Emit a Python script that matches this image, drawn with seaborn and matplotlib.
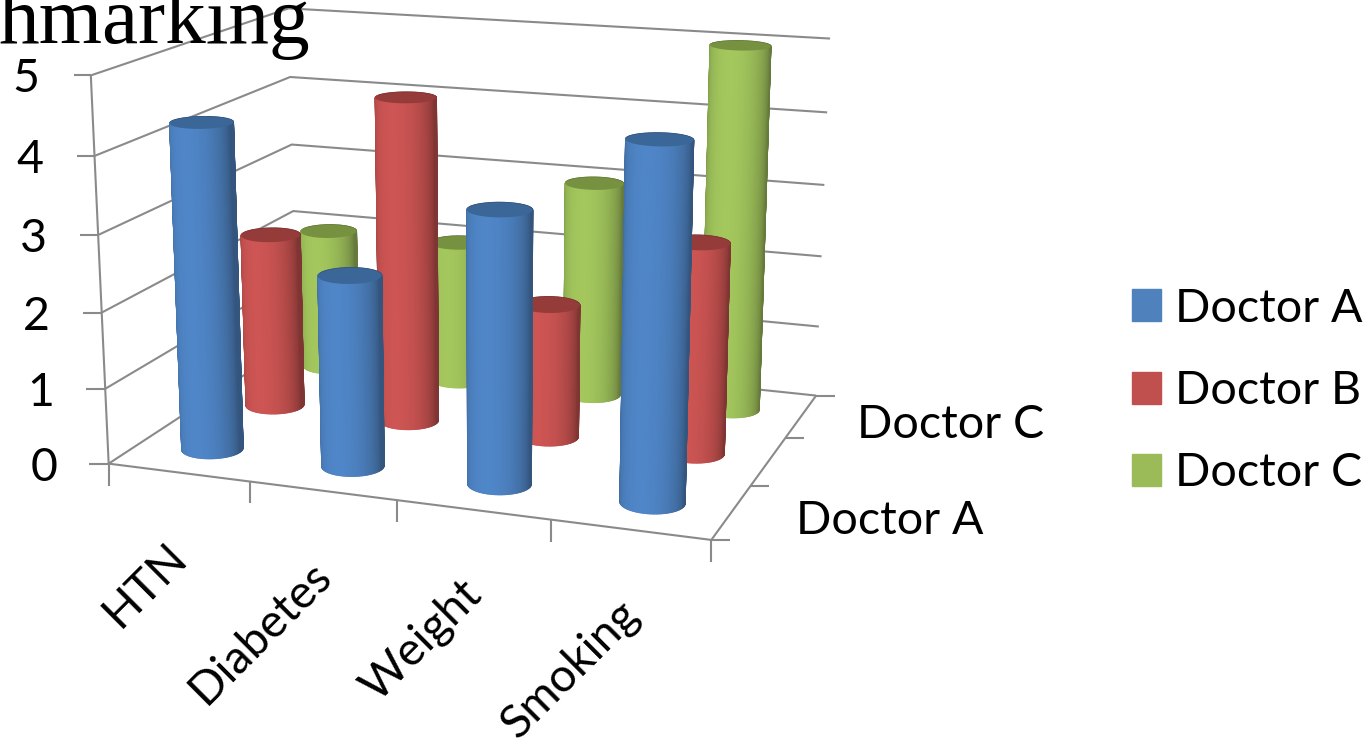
import numpy as np
import pandas as pd
import seaborn as sns
import matplotlib
matplotlib.use("Agg")
import matplotlib.pyplot as plt
from matplotlib.collections import PolyCollection
from matplotlib.colors import to_rgb
from matplotlib.patches import Patch

# Scores per topic and doctor
categories = ["HTN", "Diabetes", "Weight", "Smoking"]
doctors = ["Doctor A", "Doctor B", "Doctor C"]
doctor_a = [4.3, 2.5, 3.5, 4.5]
doctor_b = [2.4, 4.4, 1.8, 2.8]
doctor_c = [2.0, 2.0, 3.0, 5.0]
value_ticks = [0, 1, 2, 3, 4, 5]
depth_labels = {"Doctor A": 0.5, "Doctor C": 2.5}
depth_label_gap = {"Doctor A": 64, "Doctor C": 56}

scores = pd.DataFrame({"Doctor A": doctor_a, "Doctor B": doctor_b, "Doctor C": doctor_c},
                      index=categories)

sns.set_theme(style="white")
plt.rcParams["font.family"] = ["Lato", "DejaVu Sans"]
palette = dict(zip(doctors, sns.color_palette(["#4F81BD", "#C0504D", "#9BBB59"])))
bright = dict(zip(doctors, ["#4F86C8", "#CD5553", "#A3C75D"]))
lids = dict(zip(doctors, ["#3B6698", "#953B39", "#76913F"]))

GRID = "#8A8A8A"
RADIUS = 0.2
TEXT_SIZE = 33.5

# Perspective camera for the box (category, depth, value) -> figure pixels,
# solved from where the corners of the box sit on the canvas.
box_corners = [
    ((0, 0, 0), (108, 463)), ((4, 0, 0), (712, 540)), ((4, 3, 0), (815, 396)),
    ((0, 3, 0), (297, 342)), ((0, 0, 5), (91, 77)), ((0, 3, 5), (288, 8)),
    ((4, 3, 5), (830, 39)), ((0, 3, 3), (292, 144)), ((4, 3, 3), (825, 184)),
    ((0, 0, 3), (98, 234)),
]
rows, rhs = [], []
for (X, Y, Z), (u, v) in box_corners:
    rows.append([X, Y, Z, 1, 0, 0, 0, 0, -u * X, -u * Y, -u * Z])
    rows.append([0, 0, 0, 0, X, Y, Z, 1, -v * X, -v * Y, -v * Z])
    rhs += [u, v]
cam = np.append(np.linalg.lstsq(np.array(rows, float), np.array(rhs, float), rcond=None)[0], 1.0).reshape(3, 4)


def project(x, y, z):
    pts = np.stack([np.asarray(x, float) * np.ones_like(np.asarray(z, float)),
                    np.asarray(y, float) * np.ones_like(np.asarray(z, float)),
                    np.asarray(z, float) * np.ones_like(np.asarray(x, float)),
                    np.ones_like(np.asarray(x, float) * np.asarray(z, float))], axis=-1)
    h = pts @ cam.T
    return h[..., :2] / h[..., 2:3]


def draw_line(ax, pts, lw=1.5):
    pts = np.array(pts)
    ax.plot(pts[:, 0], pts[:, 1], color=GRID, lw=lw, solid_capstyle="butt", zorder=1)


def draw_cylinder(ax, cx, cy, value, name, zorder):
    """One cylinder built from shaded facets, back facets first, then its lid."""
    t = np.linspace(0, 2 * np.pi, 145)
    xs = cx + RADIUS * np.cos(t)
    ys = cy + RADIUS * np.sin(t)
    low = project(xs, ys, np.zeros_like(t))
    top = project(xs, ys, np.full_like(t, value))
    polys, colors, depth = [], [], []
    edge, mid = np.array(palette[name]) * 0.66, np.array(to_rgb(bright[name]))
    for i in range(len(t) - 1):
        am = (t[i] + t[i + 1]) / 2
        facing = max(0.0, np.cos(am - np.radians(-95)))
        polys.append([low[i], low[i + 1], top[i + 1], top[i]])
        colors.append(edge + (mid - edge) * facing ** 0.8)
        depth.append(np.sin(am))
    order = np.argsort(depth)[::-1]
    # A thick self-coloured edge closes the hairline seams between facets
    ax.add_collection(PolyCollection([polys[i] for i in order],
                                     facecolors=[colors[i] for i in order],
                                     edgecolors=[colors[i] for i in order],
                                     linewidths=1.0, zorder=zorder))
    ax.fill(top[:, 0], top[:, 1], color=lids[name], lw=0, zorder=zorder + 0.1)


fig = plt.figure(figsize=(13.72, 7.46), dpi=100)
ax = fig.add_axes([0, 0, 1, 1])
ax.set_xlim(0, 1372)
ax.set_ylim(746, 0)
ax.set_axis_off()

# Wall grid and floor outline
for v in value_ticks:
    draw_line(ax, [project(0, 0, v), project(0, 3, v), project(4, 3, v)])
draw_line(ax, [project(0, 0, 5), project(0, 0, 0), project(4, 0, 0), project(4, 3, 0)])

# Value axis ticks and labels
for v in value_ticks:
    p = project(0, 0, v)
    draw_line(ax, [p, p + [-17 - 0.6 * (5 - v), 0]])
    ax.text(p[0] - 65, p[1] + 4, str(v), ha="center", va="center", fontsize=TEXT_SIZE, color="black")

# Category ticks along the front edge
for i in range(len(categories) + 1):
    p = project(i, 0, 0)
    draw_line(ax, [p, p + [0, 22]])

# Depth ticks along the right floor edge
for j in range(len(doctors) + 1):
    p = project(4, j, 0)
    draw_line(ax, [p, p + [19, 0]])

# Cylinders, back row first
for j, name in reversed(list(enumerate(doctors))):
    for i, cat in enumerate(categories):
        draw_cylinder(ax, i + 0.5, j + 0.5, scores.loc[cat, name], name, zorder=3 + (2 - j) + 0.01 * i)

# Slanted category labels, placed below the ticks
for i, cat in enumerate(categories):
    p = project(i + 0.5, 0, 0)
    ax.text(p[0] - 13, p[1] + 63, cat, rotation=45, rotation_mode="anchor", ha="right", va="top",
            fontsize=TEXT_SIZE, color="black", zorder=6)

# Depth axis labels
for label, j in depth_labels.items():
    p = project(4, j, 0)
    ax.text(p[0] + depth_label_gap[label], p[1] + 9, label, ha="left", va="center",
            fontsize=TEXT_SIZE, color="black", zorder=6)

# Heading running off the canvas, printed over the chart
ax.text(-2, 43, "hmarking", family="Liberation Serif", fontsize=58.5, color="black",
        ha="left", va="baseline", zorder=7)

handles = [Patch(facecolor=palette[d], edgecolor=palette[d], label=d) for d in doctors]
ax.legend(handles=handles, loc="center left", bbox_to_anchor=(1132, 391),
          bbox_transform=ax.transData, frameon=False, fontsize=TEXT_SIZE, labelcolor="black",
          handlelength=0.62, handleheight=0.67, handletextpad=0.3, labelspacing=0.87,
          borderpad=0, borderaxespad=0)

fig.savefig("out.png", dpi=100)
